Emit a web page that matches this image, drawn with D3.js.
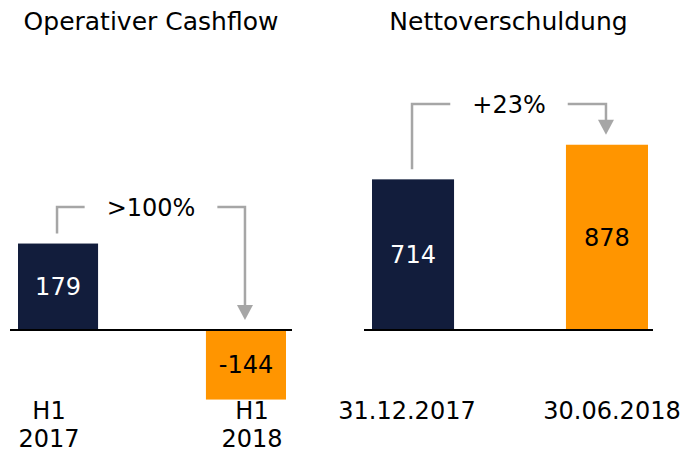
<!DOCTYPE html>
<html>
<head>
<meta charset="utf-8">
<script src="https://cdn.jsdelivr.net/npm/d3@7"></script>
<style>
  body { margin: 0; background: #fff; }
  text { font-family: "DejaVu Sans", Verdana, sans-serif; }
</style>
</head>
<body>
<div id="chart"></div>
<script>
// data
const cfTitle = "Operativer Cashflow";
const cfCategories = [["H1", "2017"], ["H1", "2018"]];
const cfValues = [179, -144];
const cfChange = ">100%";

const debtTitle = "Nettoverschuldung";
const debtCategories = [["31.12.2017"], ["30.06.2018"]];
const debtValues = [714, 878];
const debtChange = "+23%";

const colors = ["#121d3c", "#ff9500"];
const labelColors = ["#fff", "#000"];
const grey = "#a6a6a6";

const width = 689, height = 452;

const svg = d3.select("#chart")
  .append("svg")
    .attr("width", width)
    .attr("height", height);

// one panel = title, two bars, baseline, bracket arrow with change label
function panel(opt) {
  const g = svg.append("g");
  const keys = opt.categories.map(d => d.join(" "));

  const x = d3.scaleBand()
    .domain(keys)
    .range(opt.barRange)
    .paddingInner(opt.padding);

  const xl = d3.scalePoint()
    .domain(keys)
    .range(opt.labelRange);

  const y = d3.scaleLinear()
    .domain(opt.domain)
    .range(opt.yRange);

  const data = opt.values.map((v, i) => ({key: keys[i], value: v, i: i}));

  // title
  g.append("text")
    .attr("x", (opt.lineRange[0] + opt.lineRange[1]) / 2)
    .attr("y", 30)
    .attr("text-anchor", "middle")
    .style("font-size", "25px")
    .attr("fill", "#000")
    .text(opt.title);

  // bars
  g.selectAll("rect")
    .data(data)
    .join("rect")
      .attr("x", d => x(d.key))
      .attr("width", x.bandwidth())
      .attr("y", d => Math.min(y(0), y(d.value)))
      .attr("height", d => Math.abs(y(d.value) - y(0)))
      .attr("fill", d => colors[d.i]);

  // baseline
  g.append("line")
    .attr("x1", opt.lineRange[0])
    .attr("x2", opt.lineRange[1])
    .attr("y1", y(0))
    .attr("y2", y(0))
    .attr("stroke", "#000")
    .attr("stroke-width", 2);

  // value labels
  g.selectAll(".val")
    .data(data)
    .join("text")
      .attr("class", "val")
      .attr("x", d => x(d.key) + x.bandwidth() / 2)
      .attr("y", d => (y(0) + y(d.value)) / 2)
      .attr("dy", "0.36em")
      .attr("text-anchor", "middle")
      .style("font-size", "24px")
      .attr("fill", d => labelColors[d.i])
      .text(d => d.value);

  // category labels
  data.forEach(d => {
    const t = g.append("text")
      .attr("x", xl(d.key))
      .attr("y", 419)
      .attr("text-anchor", "middle")
      .style("font-size", "24px")
      .attr("fill", "#000");
    opt.categories[d.i].forEach((line, j) => {
      t.append("tspan")
        .attr("x", xl(d.key))
        .attr("dy", j === 0 ? 0 : 28)
        .text(line);
    });
  });

  // bracket arrow
  const xa = x(keys[0]) + x.bandwidth() / 2 - 1;
  const xb = x(keys[1]) + x.bandwidth() / 2 - 1;
  const top = opt.bracketY;
  const startY = Math.min(y(0), y(data[0].value)) - 10;
  const tipY = Math.min(y(0), y(data[1].value)) - 10;

  const lbl = g.append("text")
    .attr("x", (xa + xb) / 2)
    .attr("y", top)
    .attr("dy", "0.36em")
    .attr("text-anchor", "middle")
    .style("font-size", "24px")
    .attr("fill", "#000")
    .text(opt.change);
  const half = lbl.node().getComputedTextLength() / 2 + 22;
  const mid = (xa + xb) / 2;

  g.append("path")
    .attr("d", `M${xa},${startY}V${top}H${mid - half}`)
    .attr("fill", "none")
    .attr("stroke", grey)
    .attr("stroke-width", 2.5);

  g.append("path")
    .attr("d", `M${mid + half},${top}H${xb}V${tipY - 14}`)
    .attr("fill", "none")
    .attr("stroke", grey)
    .attr("stroke-width", 2.5);

  g.append("path")
    .attr("d", `M${xb - 8},${tipY - 15}L${xb + 8},${tipY - 15}L${xb},${tipY}Z`)
    .attr("fill", grey);
}

panel({
  title: cfTitle,
  categories: cfCategories,
  values: cfValues,
  change: cfChange,
  barRange: [18, 286],
  padding: 0.574,
  labelRange: [49, 252],
  lineRange: [10, 292],
  domain: [-200, 200],
  yRange: [330 + 96.6, 330 - 96.6],
  bracketY: 207
});

panel({
  title: debtTitle,
  categories: debtCategories,
  values: debtValues,
  change: debtChange,
  barRange: [372, 648],
  padding: 0.577,
  labelRange: [407, 612],
  lineRange: [364, 653],
  domain: [0, 1000],
  yRange: [330, 119],
  bracketY: 104
});
</script>
</body>
</html>
